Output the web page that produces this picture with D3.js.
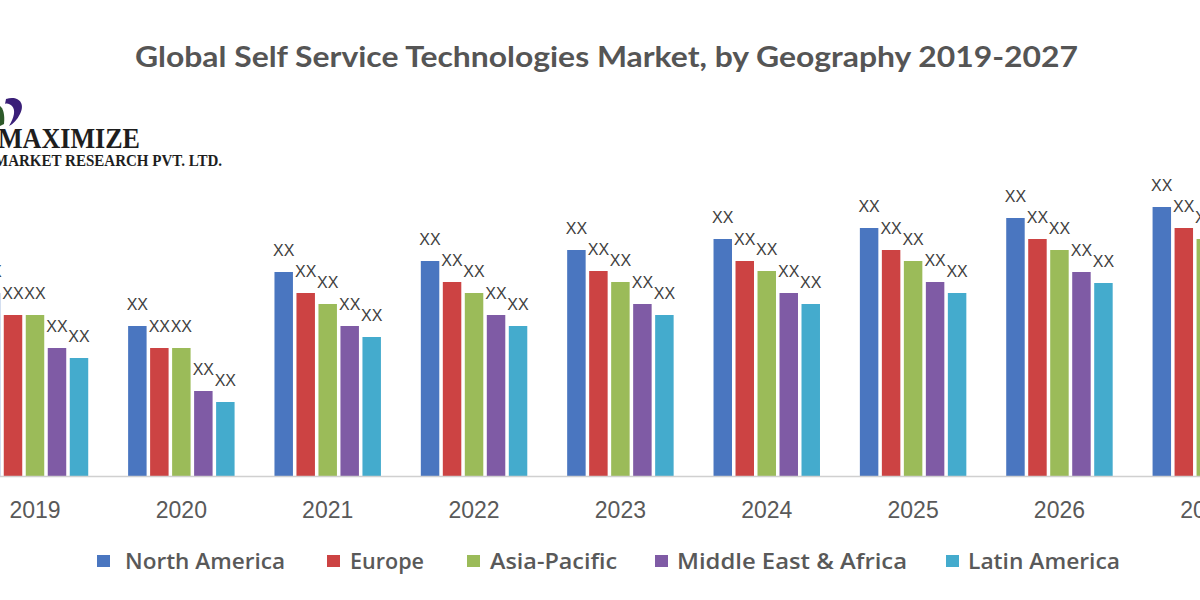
<!DOCTYPE html>
<html>
<head>
<meta charset="utf-8">
<script src="https://cdn.jsdelivr.net/npm/d3@7"></script>
<style>
  html, body { margin: 0; padding: 0; background: #ffffff; }
  svg { display: block; }
</style>
</head>
<body>
<svg id="chart" width="1200" height="600"></svg>
<script>
// ---- Data ----
const years = ["2019", "2020", "2021", "2022", "2023", "2024", "2025", "2026", "2027"];
const regions = ["North America", "Europe", "Asia-Pacific", "Middle East & Africa", "Latin America"];
const northAmerica = [18.3, 15.0, 20.4, 21.5, 22.6, 23.7, 24.8, 25.8, 26.9];
const europe       = [16.1, 12.8, 18.3, 19.4, 20.5, 21.5, 22.6, 23.7, 24.8];
const asiaPacific  = [16.1, 12.8, 17.2, 18.3, 19.4, 20.5, 21.5, 22.6, 23.7];
const middleEastAfrica = [12.8, 8.5, 15.0, 16.1, 17.2, 18.3, 19.4, 20.4, 21.5];
const latinAmerica = [11.8, 7.4, 13.9, 15.0, 16.1, 17.2, 18.3, 19.3, 20.4];
const barLabels = ["XX", "XX", "XX", "XX", "XX"];
const titleText = "Global Self Service Technologies Market, by Geography 2019-2027";

const seriesValues = [northAmerica, europe, asiaPacific, middleEastAfrica, latinAmerica];
const colors = ["#4a76c0", "#cc4343", "#9bbb59", "#7f5ba5", "#44abcd"];

const svg = d3.select("#chart");

// ---- Scales ----
const step = 146.35;
const firstCenter = 35;
const x0 = d3.scaleBand()
  .domain(years)
  .range([firstCenter - step / 2, firstCenter + step * (years.length - 0.5)])
  .paddingInner(0.2485)
  .paddingOuter(0.12425);

const x1 = d3.scaleBand()
  .domain(regions)
  .range([0, x0.bandwidth()])
  .paddingInner(0.16)
  .paddingOuter(0.08);

const y = d3.scaleLinear().domain([0, 30]).range([476, 176]);

const color = d3.scaleOrdinal().domain(regions).range(colors);

// ---- Title ----
svg.append("text")
  .attr("x", 135)
  .attr("y", 67)
  .attr("textLength", 943)
  .attr("lengthAdjust", "spacingAndGlyphs")
  .style("font-family", "Lato, 'Open Sans', sans-serif")
  .style("font-weight", 700)
  .style("font-size", "29px")
  .style("fill", "#555555")
  .text(titleText);

// ---- Logo ----
const logo = svg.append("g");
logo.append("path")
  .attr("d", "M6,99 C18,95 26,103 20,114 C17,120 13,124 9,126 C14,118 16,110 12,106 C10,104 7,103 5,104 Z")
  .attr("fill", "#3a1f78");
logo.append("path")
  .attr("d", "M0,106 C3,108 5,114 4,124 L0,126 Z")
  .attr("fill", "#2d5a2a");
logo.append("text")
  .attr("x", -2)
  .attr("y", 148)
  .attr("textLength", 142)
  .attr("lengthAdjust", "spacingAndGlyphs")
  .style("font-family", "'Liberation Serif', 'DejaVu Serif', serif")
  .style("font-weight", 700)
  .style("font-size", "30px")
  .style("fill", "#1e1e1e")
  .text("MAXIMIZE");
logo.append("text")
  .attr("x", -6)
  .attr("y", 166)
  .attr("textLength", 228)
  .attr("lengthAdjust", "spacingAndGlyphs")
  .style("font-family", "'Liberation Serif', 'DejaVu Serif', serif")
  .style("font-weight", 700)
  .style("font-size", "16px")
  .style("fill", "#1e1e1e")
  .text("MARKET RESEARCH PVT. LTD.");

// ---- Bars ----
const groups = svg.append("g")
  .selectAll("g")
  .data(years)
  .join("g")
  .attr("transform", d => `translate(${x0(d)},0)`);

const cellData = (yr, i) => regions.map((r, k) => ({ region: r, value: seriesValues[k][i], label: barLabels[k] }));

groups.selectAll("rect")
  .data(cellData)
  .join("rect")
  .attr("x", d => x1(d.region))
  .attr("width", x1.bandwidth())
  .attr("y", d => y(d.value))
  .attr("height", d => y(0) - y(d.value))
  .attr("fill", d => color(d.region));

groups.selectAll("text")
  .data(cellData)
  .join("text")
  .attr("x", d => x1(d.region) + x1.bandwidth() / 2)
  .attr("y", d => y(d.value) - 16)
  .attr("text-anchor", "middle")
  .style("font-family", "'Liberation Sans', Arial, sans-serif")
  .style("font-size", "16px")
  .style("fill", "#404040")
  .text(d => d.label);

// ---- X axis ----
const xAxis = svg.append("g")
  .attr("transform", `translate(0,${y(0)})`)
  .call(d3.axisBottom(x0).tickSize(0).tickSizeOuter(0).tickPadding(26));
xAxis.select(".domain")
  .attr("stroke", "#d0d0d0")
  .attr("stroke-width", 1.5);
xAxis.selectAll("text")
  .style("font-family", "'Liberation Sans', Arial, sans-serif")
  .style("font-size", "23px")
  .style("fill", "#595959");

// ---- Legend ----
const legendItems = [
  { sx: 97, tx: 125, tw: 160 },
  { sx: 327, tx: 350, tw: 74 },
  { sx: 467, tx: 490, tw: 127 },
  { sx: 655, tx: 677, tw: 230 },
  { sx: 946, tx: 968, tw: 152 }
];
const legend = svg.append("g");
const li = legend.selectAll("g")
  .data(regions)
  .join("g");
li.append("rect")
  .attr("x", (d, i) => legendItems[i].sx)
  .attr("y", 555)
  .attr("width", 13)
  .attr("height", 12)
  .attr("fill", d => color(d));
li.append("text")
  .attr("x", (d, i) => legendItems[i].tx)
  .attr("y", 569)
  .attr("textLength", (d, i) => legendItems[i].tw)
  .attr("lengthAdjust", "spacingAndGlyphs")
  .style("font-family", "'Open Sans', 'Noto Sans', sans-serif")
  .style("font-weight", 600)
  .style("font-size", "22px")
  .style("fill", "#595959")
  .text(d => d);
</script>
</body>
</html>
